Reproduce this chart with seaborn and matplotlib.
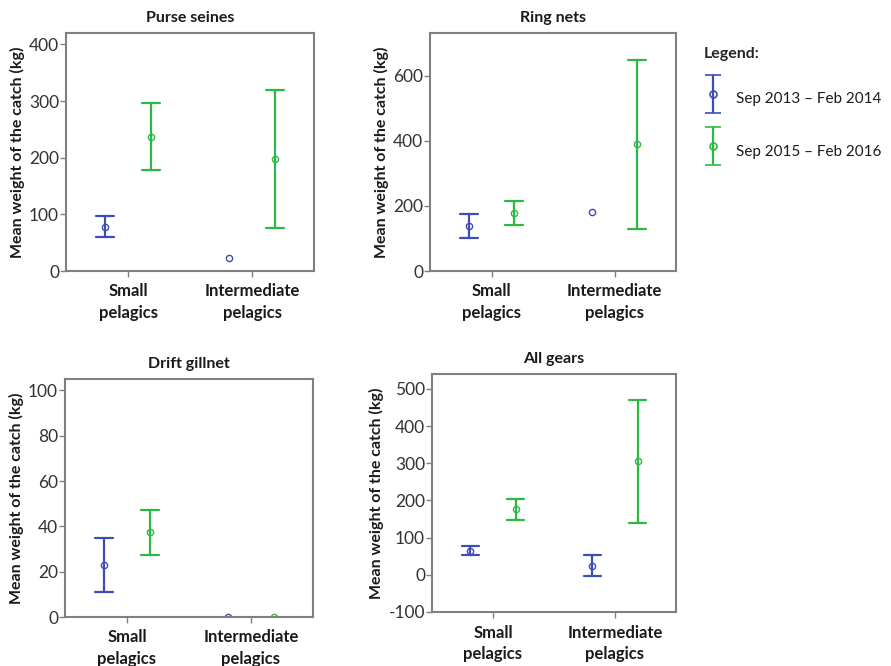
import numpy as np
import pandas as pd
import matplotlib
matplotlib.use("Agg")
import matplotlib.pyplot as plt
import seaborn as sns
from matplotlib.container import ErrorbarContainer
from matplotlib.legend_handler import HandlerErrorbar

# ---------------- data ----------------
categories = ["Small pelagics", "Intermediate pelagics"]
tick_labels = ["Small\npelagics", "Intermediate\npelagics"]
periods = ["Sep 2013 \u2013 Feb 2014", "Sep 2015 \u2013 Feb 2016"]
panel_titles = ["Purse seines", "Ring nets", "Drift gillnet", "All gears"]

# rows = periods, columns = categories; nan = no error bar
purse_mean = [[78, 23], [237, 198]]
purse_low = [[60, np.nan], [178, 76]]
purse_high = [[97, np.nan], [297, 320]]

ring_mean = [[137, 180], [178, 390]]
ring_low = [[100, np.nan], [140, 130]]
ring_high = [[175, np.nan], [215, 650]]

drift_mean = [[23, 0], [37.5, 0]]
drift_low = [[11, np.nan], [27.5, np.nan]]
drift_high = [[35, np.nan], [47, np.nan]]

all_mean = [[63, 25], [177, 305]]
all_low = [[52, -2], [148, 138]]
all_high = [[77, 53], [205, 470]]

y_limits = [(0, 420), (0, 732), (0, 105), (-100, 540)]
y_ticks = [np.arange(0, 401, 100), np.arange(0, 601, 200),
           np.arange(0, 101, 20), np.arange(-100, 501, 100)]

panels = [
    (purse_mean, purse_low, purse_high),
    (ring_mean, ring_low, ring_high),
    (drift_mean, drift_low, drift_high),
    (all_mean, all_low, all_high),
]

colors = ["#3c4db8", "#2db843"]


def long_frame(mean, low, high):
    rows = []
    for pi, per in enumerate(periods):
        for ci, cat in enumerate(categories):
            vals = [mean[pi][ci]]
            if not np.isnan(low[pi][ci]):
                vals += [low[pi][ci], high[pi][ci]]
            for v in vals:
                rows.append({"category": cat, "period": per, "value": v})
    return pd.DataFrame(rows)


# ---------------- style ----------------
sns.set_theme(style="white")
plt.rcParams["font.family"] = ["Lato", "DejaVu Sans"]
plt.rcParams["axes.edgecolor"] = "#808080"
plt.rcParams["axes.unicode_minus"] = False

fig = plt.figure(figsize=(8.91, 6.66), dpi=100)
W, H = 891, 666
boxes = [(66, 33, 314, 271), (430, 33, 676, 271),
         (65, 379, 313, 617), (432, 374, 676, 612)]

for k, (box, (m, lo, hi)) in enumerate(zip(boxes, panels)):
    x0, y0, x1, y1 = box
    ax = fig.add_axes([x0 / W, 1 - y1 / H, (x1 - x0) / W, (y1 - y0) / H])
    df = long_frame(m, lo, hi)
    sns.pointplot(
        data=df, x="category", y="value", hue="period",
        order=categories, hue_order=periods, palette=colors,
        estimator="median", errorbar=("pi", 100),
        dodge=0.37, capsize=0.145, linestyle="none", marker="o",
        markersize=4.5, markeredgewidth=1.0, markerfacecolor="none",
        err_kws={"linewidth": 1.6}, legend=False, ax=ax,
    )
    for ln in ax.lines:
        ln.set_markerfacecolor("none")
    ax.set_xlim(-0.5, 1.5)
    ax.set_ylim(*y_limits[k])
    ax.set_yticks(y_ticks[k])
    ax.set_xticks([0, 1])
    ax.set_xticklabels(tick_labels, fontsize=12, fontweight="bold",
                       color="#1a1a1a", linespacing=1.4)
    ax.tick_params(axis="y", labelsize=12.5, colors="#333333", length=4,
                   width=1, left=True, color="#808080", pad=1)
    ax.tick_params(axis="x", length=4, width=1, bottom=True,
                   color="#808080", pad=5)
    for lbl in ax.get_yticklabels():
        lbl.set_color("#333333")
    ax.set_xlabel("")
    ax.set_ylabel("Mean weight of the catch (kg)", fontsize=11.5,
                  fontweight="bold", color="#1a1a1a", labelpad=3)
    ax.set_title(panel_titles[k], fontsize=11.5, fontweight="bold",
                 color="#1a1a1a", pad=8)
    for sp in ax.spines.values():
        sp.set_color("#808080")
        sp.set_linewidth(1.5)

# ---------------- legend ----------------
hax = fig.add_axes([0.0, 0.0, 0.01, 0.01])
handles = []
for c in colors:
    h = hax.errorbar([0], [0], yerr=[1], fmt="o", color=c, mfc="none",
                     ms=5, mew=1.2, capsize=6, elinewidth=1.6, capthick=1.6)
    handles.append(h)
hax.set_visible(False)
leg = fig.legend(handles, periods, loc="upper left",
                 bbox_to_anchor=(695 / W, 1 - 38 / H),
                 frameon=False, title="Legend:", alignment="left",
                 fontsize=11, title_fontproperties={"weight": "bold", "size": 11.5},
                 handleheight=2.6, handlelength=1.2, labelspacing=1.5,
                 handletextpad=0.9, borderpad=0.1,
                 handler_map={ErrorbarContainer: HandlerErrorbar(yerr_size=1.25)})
for t in leg.get_texts():
    t.set_color("#1a1a1a")

fig.savefig("out.png", dpi=100)
